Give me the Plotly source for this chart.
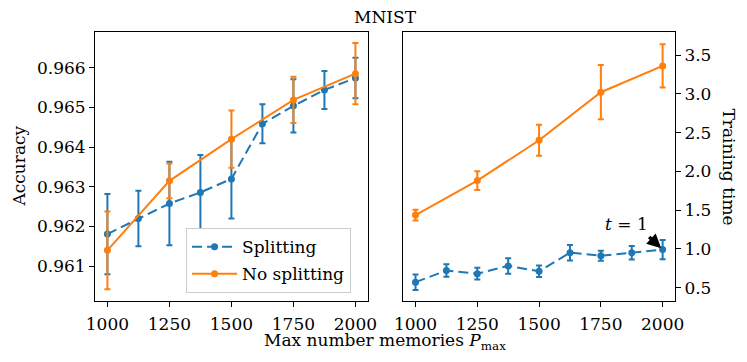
import plotly.graph_objects as go
from plotly.subplots import make_subplots

# memories (x axis)
mem_split = [1000, 1125, 1250, 1375, 1500, 1625, 1750, 1875, 2000]
mem_nosplit = [1000, 1250, 1500, 1750, 2000]

# accuracy
acc_split = [0.96181, 0.96220, 0.96258, 0.96286, 0.96320, 0.96459, 0.96504, 0.96544, 0.96574]
acc_split_err = [0.00101, 0.00070, 0.00105, 0.00094, 0.00100, 0.00049, 0.00067, 0.00048, 0.00051]
acc_nosplit = [0.96140, 0.96315, 0.96420, 0.96519, 0.96585]
acc_nosplit_err = [0.00098, 0.00044, 0.00072, 0.00058, 0.00077]

# training time
time_split = [0.57, 0.72, 0.68, 0.78, 0.71, 0.95, 0.91, 0.95, 0.99]
time_split_err = [0.10, 0.08, 0.075, 0.10, 0.075, 0.10, 0.065, 0.087, 0.125]
time_nosplit = [1.435, 1.88, 2.40, 3.02, 3.36]
time_nosplit_err = [0.07, 0.12, 0.20, 0.35, 0.28]

x_ticks = [1000, 1250, 1500, 1750, 2000]
acc_ticks = [0.961, 0.962, 0.963, 0.964, 0.965, 0.966]
time_ticks = [0.5, 1.0, 1.5, 2.0, 2.5, 3.0, 3.5]

blue = '#1f77b4'
orange = '#ff7f0e'
font = 'DejaVu Serif'
txt = {'family': font, 'size': 17, 'color': 'black'}

fig = make_subplots(rows=1, cols=2, horizontal_spacing=0.06)


def add_series(x, y, err, color, name, dash, col, legend):
    fig.add_trace(go.Scatter(
        x=x, y=y, name=name, mode='lines+markers',
        line={'color': color, 'width': 2, 'dash': dash},
        marker={'color': color, 'size': 7},
        error_y={'type': 'data', 'array': err, 'color': color,
                 'thickness': 2, 'width': 3},
        showlegend=legend, legendgroup=name), row=1, col=col)


add_series(mem_split, acc_split, acc_split_err, blue, 'Splitting', '10px,5px', 1, True)
add_series(mem_nosplit, acc_nosplit, acc_nosplit_err, orange, 'No splitting', 'solid', 1, True)
add_series(mem_split, time_split, time_split_err, blue, 'Splitting', '10px,5px', 2, False)
add_series(mem_nosplit, time_nosplit, time_nosplit_err, orange, 'No splitting', 'solid', 2, False)

axis_style = dict(showline=True, mirror=True, linecolor='black', linewidth=1,
                  ticks='outside', ticklen=5, tickcolor='black', showgrid=False,
                  zeroline=False, automargin=False, tickfont=txt)

fig.update_xaxes(range=[950, 2050], tickvals=x_ticks, ticklabelstandoff=3, **axis_style)
fig.update_layout(xaxis={'domain': [0, 0.4704]}, xaxis2={'domain': [0.5313, 1]})
fig.update_yaxes(range=[0.960124, 0.96690], tickvals=acc_ticks,
                 tickformat='.3f', row=1, col=1, **axis_style)
fig.update_yaxes(range=[0.327, 3.797], tickvals=time_ticks, tickformat='.1f',
                 side='right', row=1, col=2, **axis_style)

fig.add_annotation(text='<i>t</i> = 1', xref='x2', yref='y2', x=1853, y=1.314,
                   xanchor='center', yanchor='middle', showarrow=False, font=txt)
fig.add_annotation(text='', xref='x2', yref='y2', x=2000, y=0.99, ax=-15, ay=-14,
                   showarrow=True, arrowhead=2, arrowsize=0.8, arrowwidth=3.5,
                   arrowcolor='black', standoff=2)

fig.add_annotation(text='MNIST', xref='paper', yref='paper', x=0.5014, y=1.0,
                   xanchor='center', yanchor='middle', yshift=15,
                   showarrow=False, font=txt)
fig.add_annotation(text='Max number memories <i>P</i><sub>max</sub>', xref='paper',
                   yref='paper', x=0.4997, y=0, xanchor='center', yanchor='middle',
                   yshift=-40, showarrow=False, font=txt)
fig.add_annotation(text='Accuracy', xref='paper', yref='paper', x=0, xshift=-77,
                   y=0.5, xanchor='center', yanchor='middle', textangle=-90,
                   showarrow=False, font=txt)
fig.add_annotation(text='Training time', xref='paper', yref='paper', x=1, xshift=54,
                   y=0.5, xanchor='center', yanchor='middle', textangle=90,
                   showarrow=False, font=txt)

# page body has an 8px margin, so the figure is 8px smaller than the window
fig.update_layout(
    width=739, height=354,
    margin={'l': 87, 'r': 72, 't': 24, 'b': 61},
    plot_bgcolor='white', paper_bgcolor='white',
    font=txt,
    legend={'x': 0.157, 'y': 0.029, 'xanchor': 'left', 'yanchor': 'bottom',
            'bgcolor': 'white', 'bordercolor': '#cccccc', 'borderwidth': 1,
            'traceorder': 'grouped', 'tracegroupgap': 2, 'itemwidth': 45,
            'font': txt},
)

fig.write_html("out.html")
